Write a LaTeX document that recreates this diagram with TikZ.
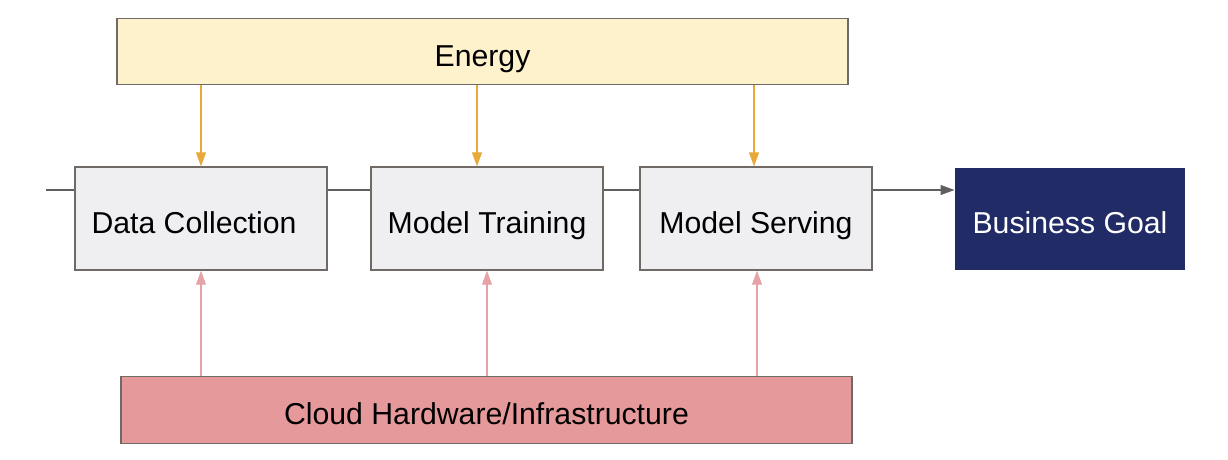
\documentclass[tikz,border=0pt]{standalone}
\usepackage{fontspec}
\setmainfont{Liberation Sans}
\usetikzlibrary{arrows.meta,positioning}

\definecolor{energyfill}{HTML}{FEF2CC}
\definecolor{energyline}{HTML}{E8A83A}
\definecolor{cloudfill}{HTML}{E6999A}
\definecolor{cloudline}{HTML}{E5A3A8}
\definecolor{stagefill}{HTML}{EFEEF1}
\definecolor{boxline}{HTML}{6F6A66}
\definecolor{goalfill}{HTML}{212B66}
\definecolor{flowline}{HTML}{5F5F5F}

\begin{document}
\begin{tikzpicture}[x=0.02cm,y=-0.02cm,>={Triangle[length=2.8mm,width=2mm]},
                    line width=0.6pt,font=\fontsize{17.2}{20}\selectfont,
                    text height=5.9mm,text depth=0pt]
  \tikzstyle{stage}=[draw=boxline,fill=stagefill,thick,minimum width=4.64cm,
                     minimum height=2.06cm]
  \tikzstyle{band}=[draw=boxline,thick,minimum width=14.62cm,minimum height=1.33cm]

  \useasboundingbox (0,0) rectangle (1228,460);

  \node[band,fill=energyfill] (energy) at (482.5,51.5) {Energy};
  \node[band,fill=cloudfill]  (cloud)  at (486.5,410) {Cloud Hardware/Infrastructure};

  \node[stage,minimum width=5.04cm] (dc) at (201,218.5) {Data Collection\kern0.28cm};
  \node[stage] (mt) at (487,218.5) {Model Training};
  \node[stage] (ms) at (756,218.5) {Model Serving};
  \node[fill=goalfill,text=white,minimum width=4.6cm,minimum height=2.04cm]
       (goal) at (1070,219) {Business Goal};

  \coordinate (in) at (46,190);

  % pipeline
  \draw[flowline] (in) -- (in -| dc.west);
  \draw[flowline] (dc.east |- in) -- (mt.west |- in);
  \draw[flowline] (mt.east |- in) -- (ms.west |- in);
  \draw[flowline,->] (ms.east |- in) -- (goal.west |- in);

  % energy feeds every stage
  \path[->,energyline] (energy.south -| dc.north) edge (dc.north)
        ([xshift=-0.2cm]energy.south -| mt.north) edge ([xshift=-0.2cm]mt.north)
        ([xshift=-0.04cm]energy.south -| ms.north) edge ([xshift=-0.04cm]ms.north);

  % hardware below every stage
  \path[->,cloudline] (cloud.north -| dc.south) edge (dc.south)
        (cloud.north -| mt.south) edge (mt.south)
        ([xshift=0.02cm]cloud.north -| ms.south) edge ([xshift=0.02cm]ms.south);
\end{tikzpicture}
\end{document}
